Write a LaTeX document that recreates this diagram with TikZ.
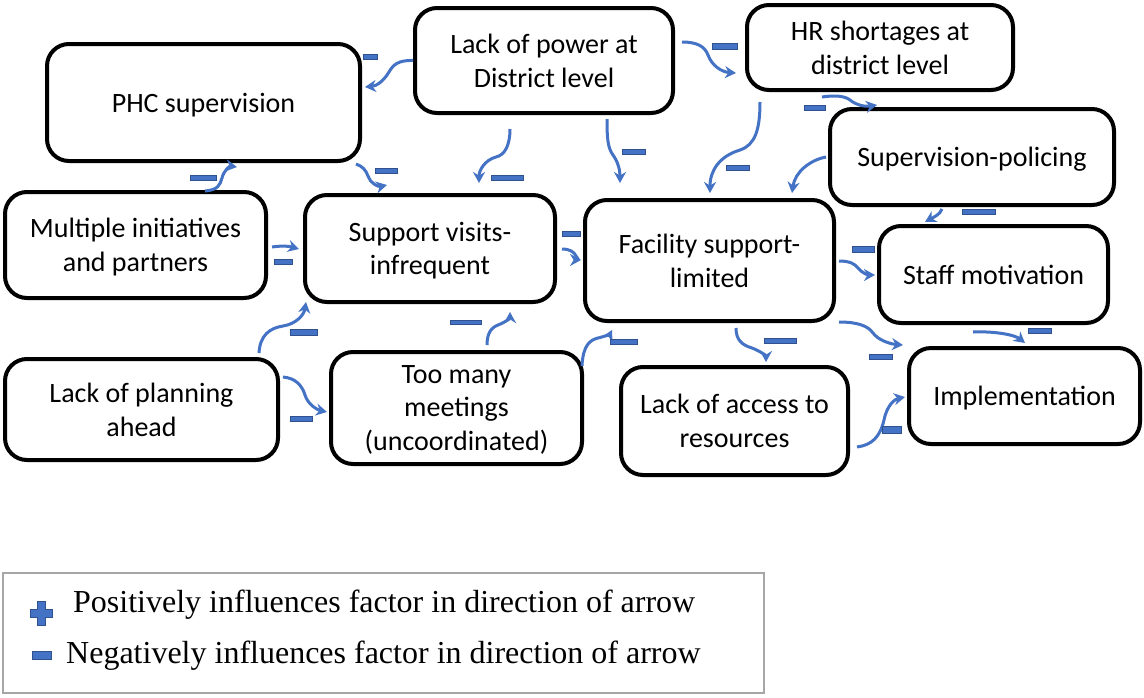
\documentclass[tikz,border=0pt]{standalone}
\usepackage{fontspec}
\setmainfont{Carlito}
\newfontfamily\legfont{Liberation Serif}
\usetikzlibrary{arrows.meta,calc}
\definecolor{ablue}{HTML}{4472C4}
\definecolor{dblue}{HTML}{2F528F}
\definecolor{lgray}{HTML}{A6A6A6}
\begin{document}
\begin{tikzpicture}[x=1pt,y=-1pt,
  box/.style={draw, line width=4pt, rounded corners=22pt, fill=white, align=center,
    font=\fontsize{28}{33.6}\selectfont, inner sep=2pt, text depth=0pt},
  conn/.style={draw=ablue, line width=3pt, -{Stealth[length=11pt,width=12pt]}},
  minus/.style={fill=ablue, draw=dblue, line width=0.8pt, inner sep=0pt, minimum width=#1},
  legtext/.style={anchor=base west, inner sep=0pt, font=\legfont\fontsize{32}{38}\selectfont}]
\useasboundingbox (0,0) rectangle (1144,697);
\fill[white] (0,0) rectangle (1144,697);

% boxes
\node[box, minimum width=313pt, minimum height=117pt] (phc) at (203.5,102.5) {PHC supervision};
\node[box, minimum width=258pt, minimum height=105pt] (power) at (544,60.5) {Lack of power at\\District level};
\node[box, minimum width=266pt, minimum height=85pt] (hr) at (880,47.5) {HR shortages at\\district level};
\node[box, minimum width=284pt, minimum height=96pt] (suppol) at (972,157) {Supervision-policing};
\node[box, minimum width=229pt, minimum height=97pt] (staff) at (993.5,274.5) {Staff motivation};
\node[box, minimum width=249pt, minimum height=121pt] (fac) at (709.5,260.5) {Facility support-\\limited};
\node[box, minimum width=231pt, minimum height=96pt] (impl) at (1024.5,396) {Implementation};
\node[box, minimum width=227pt, minimum height=108pt] (access) at (734.5,421) {Lack of access to\\resources};
\node[box, minimum width=261pt, minimum height=106pt] (multi) at (135.5,245) {Multiple initiatives\\and partners};
\node[box, minimum width=250pt, minimum height=107pt] (support) at (430,248.5) {Support visits-\\infrequent};
\node[box, minimum width=273pt, minimum height=101pt] (plan) at (141.5,409.5) {Lack of planning\\ahead};
\node[box, minimum width=251pt, minimum height=112pt] (meet) at (456.5,408) {Too many\\meetings\\(uncoordinated)};

% connectors
\draw[conn] (power.west) .. controls (398,60) and (393,65) .. (389,72) .. controls (383,82) and (376,86) .. ($(phc.east)+(3,-15.5)$);
\draw[conn] ($(power.east)+(7,-18.5)$) .. controls (698,42) and (705,47) .. (708,55) .. controls (712,66) and (722,72) .. ($(hr.west)+(-9,25.5)$);
\draw[conn] ($(power.south)+(-34,14)$) .. controls (510,145) and (505,155) .. (496,157) .. controls (485,160) and (479,170) .. ($(support.north)+(49,-10)$);
\draw[conn] ($(power.south)+(63,4)$) .. controls (607,140) and (608,148) .. (613,155) .. controls (618,162) and (620,170) .. ($(fac.north)+(-89.5,-15)$);
\draw[conn] ($(hr.south)+(-120,10)$) .. controls (760,130) and (755,145) .. (740,150) .. controls (720,156) and (710,170) .. ($(fac.north)+(0.5,-5)$);
\draw[conn] ($(hr.south)+(-58,5)$) .. controls (835,95) and (845,96) .. (850,100) .. controls (856,105) and (865,107) .. ($(suppol.north)+(-95,-2)$);
\draw[conn] ($(suppol.west)+(-2,0)$) .. controls (810,160) and (795,172) .. ($(fac.north)+(82.5,-5)$);
\draw[conn] ($(suppol.south)+(-30,2)$) .. controls (940,215) and (932,218) .. ($(staff.north)+(-68.5,-2)$);
\draw[conn] ($(fac.east)+(3,0.5)$) .. controls (850,261) and (855,264) .. (858,268) .. controls (862,273) and (868,275) .. ($(staff.west)+(-2,0.5)$);
\draw[conn] ($(fac.east)+(3,61.5)$) .. controls (858,322) and (868,326) .. (873,333) .. controls (878,340) and (890,344) .. ($(impl.west)+(-4,-51)$);
\draw[conn] ($(staff.south)+(-20.5,7)$) .. controls (995,331) and (1015,335) .. ($(impl.north)+(0.5,-3)$);
\draw[conn] ($(fac.south)+(26.5,5)$) .. controls (736,340) and (742,345) .. (752,348) .. controls (762,352) and (766,356) .. ($(access.north)+(31.5,-3)$);
\draw[conn] ($(access.east)+(7,26)$) .. controls (872,445) and (880,437) .. (884,420) .. controls (887,405) and (895,399) .. ($(impl.west)+(-2,1)$);
\draw[conn] ($(meet.east)+(-2,-42)$) .. controls (583,345) and (590,340) .. (598,338) .. controls (606,336) and (610,334) .. ($(fac.south)+(-97.5,7)$);
\draw[conn] ($(support.east)+(5,0.5)$) .. controls (570,249) and (574,252) .. (576,256) .. controls (578,259) and (580,260) .. ($(fac.west)+(-2,-0.5)$);
\draw[conn] ($(multi.east)+(4,2)$) .. controls (285,245) and (292,247) .. ($(support.west)+(-4,0.5)$);
\draw[conn] ($(multi.north)+(69.5,1)$) .. controls (218,190) and (220,185) .. (222,178) .. controls (224,170) and (230,166) .. ($(phc.south)+(33.5,4)$);
\draw[conn] ($(phc.south east)+(-6,1)$) .. controls (362,166) and (366,170) .. (368,176) .. controls (370,183) and (378,187) .. ($(support.north)+(-43,-8)$);
\draw[conn] ($(plan.north)+(117.5,-4)$) .. controls (260,335) and (270,328) .. (283,326) .. controls (296,324) and (304,315) .. ($(support.south)+(-124,-2)$);
\draw[conn] ($(plan.east)+(3,-32.5)$) .. controls (295,378) and (302,385) .. (305,395) .. controls (308,405) and (318,410) .. ($(meet.west)+(-2,4)$);
\draw[conn] ($(meet.north)+(30.5,-5)$) .. controls (487,335) and (490,328) .. (498,325) .. controls (506,322) and (510,318) .. ($(support.south)+(80,8)$);

% minus signs
\node[minus=14pt, minimum height=5pt] (m1) at (370,57) {};
\node[minus=25pt, minimum height=6pt] (m2) at (725,46) {};
\node[minus=32pt, minimum height=5pt] (m3) at (507,178) {};
\node[minus=23pt, minimum height=5pt] (m4) at (634,152) {};
\node[minus=23pt, minimum height=5pt] (m5) at (738,168) {};
\node[minus=21pt, minimum height=5pt] (m6) at (815,108) {};
\node[minus=33pt, minimum height=5pt] (m8) at (979,212) {};
\node[minus=22pt, minimum height=6pt] (m9) at (863,249) {};
\node[minus=23pt, minimum height=5pt] (m10) at (881,357) {};
\node[minus=23pt, minimum height=5pt] (m11) at (1040,331) {};
\node[minus=32pt, minimum height=5pt] (m12) at (780,341) {};
\node[minus=19pt, minimum height=7pt] (m13) at (892,430) {};
\node[minus=27pt, minimum height=5pt] (m14) at (624,342) {};
\node[minus=18pt, minimum height=5pt] (m15) at (571,234) {};
\node[minus=18pt, minimum height=5pt] (m16) at (283,262) {};
\node[minus=26pt, minimum height=5pt] (m17) at (203,178) {};
\node[minus=22pt, minimum height=5pt] (m18) at (386,171) {};
\node[minus=27pt, minimum height=6pt] (m19) at (304,332) {};
\node[minus=22pt, minimum height=5pt] (m20) at (301,419) {};
\node[minus=31pt, minimum height=4pt] (m21) at (466,322) {};

% legend
\node[draw=lgray, line width=2pt, minimum width=761pt, minimum height=120pt, inner sep=0pt] (legend) at (383.5,633) {};
\fill[ablue, draw=dblue, line width=0.8pt] (37,601) -- (45,601) -- (45,609) -- (52,609) -- (52,617) -- (45,617) -- (45,625) -- (37,625) -- (37,617) -- (30,617) -- (30,609) -- (37,609) -- cycle;
\node[legtext] (legp) at (73,612) {Positively influences factor in direction of arrow};
\node[minus=19pt, minimum height=8pt] (lm) at (42,655) {};
\node[legtext] (legn) at (66,663) {Negatively influences factor in direction of arrow};
\end{tikzpicture}
\end{document}
